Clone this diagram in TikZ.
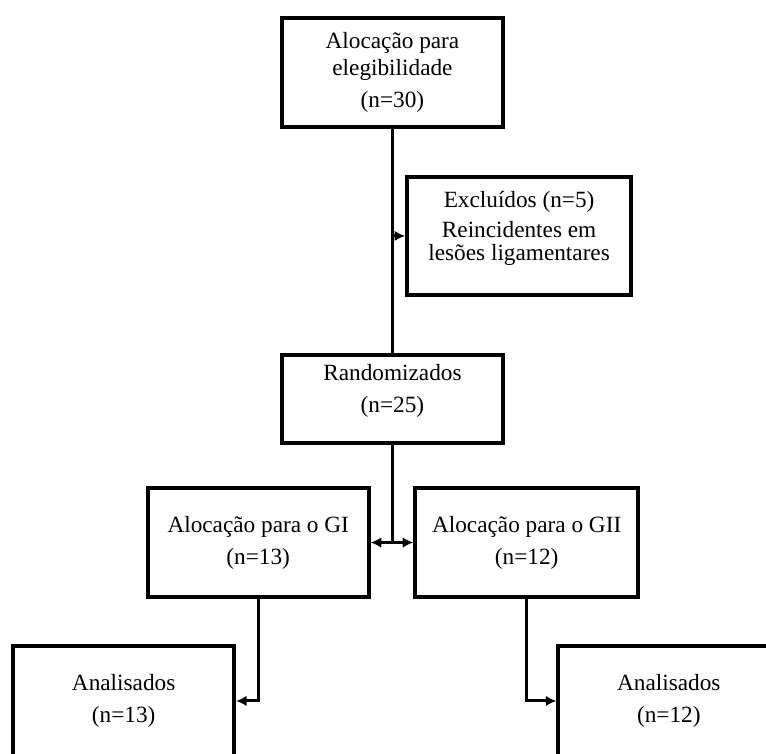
\documentclass[tikz,border=0pt]{standalone}
\usepackage{fontspec}
\setmainfont{Liberation Serif}
\usepackage{tikz}
\usetikzlibrary{arrows.meta}
\tikzstyle{box}=[draw, line width=2.8pt, minimum width=5.85cm, inner sep=2pt, align=center, font=\fontsize{17.5}{24}\selectfont]
\tikzstyle{link}=[line width=2.3pt]
\tikzstyle{arrow}=[line width=2.3pt, -{Latex[length=8pt,width=8pt]}]

\begin{document}
\begin{tikzpicture}
\useasboundingbox (0,0) rectangle (20.26,19.92);
\clip (0,0) rectangle (20.26,19.92);

\node[box, minimum height=2.88cm] (elig) at (10.38, 18.00) {Alocação para\\[-4pt] elegibilidade\\ (n=30)};
\node[box, minimum height=3.12cm, minimum width=5.93cm, text depth=15pt] (excl) at (13.73, 13.68) {Excluídos (n=5)\\[-1.5pt] Reincidentes em\\[-6pt] lesões ligamentares};
\node[box, minimum height=2.33cm, text depth=16pt] (rand) at (10.38, 9.37) {Randomizados\\ (n=25)};

\node[box, minimum height=2.88cm] (g1) at (6.83, 5.57) {Alocação para o GI\\ (n=13)};
\node[box, minimum height=2.88cm, minimum width=5.9cm] (g2) at (13.93, 5.57) {Alocação para o GII\\ (n=12)};

\node[box, minimum height=2.91cm] (an1) at (3.27, 1.38) {Analisados\\ (n=13)};
\node[box, minimum height=2.91cm] (an2) at (17.69, 1.38) {Analisados\\ (n=12)};

\coordinate (j1) at (rand |- g1);

\draw[link] (elig) -- (rand);
\draw[arrow] (elig) |- (excl);
\draw[link] (rand) -- (j1);
\draw[arrow] (j1) -- (g1);
\draw[arrow] (j1) -- (g2);
\draw[arrow] (g1) |- (an1);
\draw[arrow] (g2) |- (an2);
\end{tikzpicture}
\end{document}
